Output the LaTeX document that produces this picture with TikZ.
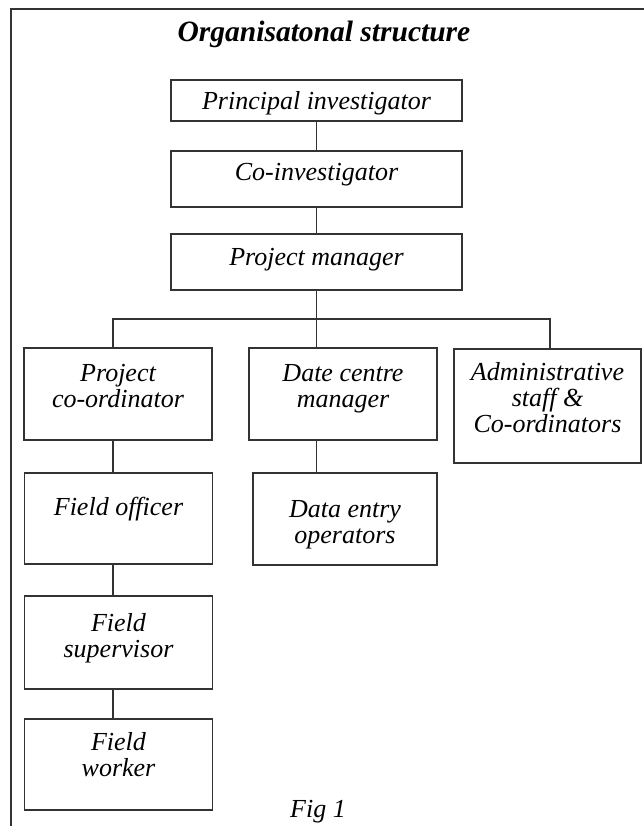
\documentclass[tikz,border=0pt]{standalone}
\usepackage{fontspec}
\setmainfont{Liberation Serif}

\begin{document}
\begin{tikzpicture}[x=1pt,y=-1pt,line width=1.2pt,line cap=rect]
	\tikzstyle{box}=[draw=black!80,rectangle,inner sep=0pt];
	\tikzstyle{top}=[box,minimum width=291pt];
	\tikzstyle{low}=[box,minimum width=188pt];
	\tikzstyle{txt}=[anchor=north,inner sep=0pt,align=center,font=\fontsize{26}{26}\selectfont\itshape];
	\tikzstyle{link}=[draw=black!80];

	\useasboundingbox (0,0) rectangle (643,826);
	\draw[link] (643,9) -- (11,9) -- (11,826);

	\node[font=\fontsize{29.5}{30}\selectfont\bfseries\itshape,anchor=base] (title) at (324,42) {Organisatonal structure};

	\node[top,minimum height=41pt,label={[txt,yshift=-11pt]north:Principal investigator}] (pi)  at (316.5,100.5) {};
	\node[top,minimum height=56pt,label={[txt,yshift=-12pt]north:Co-investigator}]        (ci)  at (316.5,179)   {};
	\node[top,minimum height=56pt,label={[txt,yshift=-14pt]north:Project manager}]        (pm)  at (316.5,262)   {};

	\node[low,minimum height=92pt,label={[txt,yshift=-16pt]north:Project\\co-ordinator}]  (pc)  at (118,394)   {};
	\node[low,minimum height=92pt,label={[txt,yshift=-16pt]north:Date centre\\manager}]   (dcm) at (343,394)   {};
	\node[low,minimum height=114pt,minimum width=187pt,
		label={[txt,yshift=-13pt]north:Administrative\\staff \&\\Co-ordinators}]         (adm) at (547.5,406) {};

	\node[low,minimum height=91pt,label={[txt,yshift=-24pt]north:Field officer}]          (fo)  at (118.5,518.5) {};
	\node[low,minimum height=92pt,minimum width=184pt,
		label={[txt,yshift=-27pt]north:Data entry\\operators}]                           (de)  at (345,519)   {};
	\node[low,minimum height=93pt,label={[txt,yshift=-17pt]north:Field\\supervisor}]      (fs)  at (118.5,642.5) {};
	\node[low,minimum height=91pt,label={[txt,yshift=-13pt]north:Field\\worker}]          (fw)  at (118.5,764.5) {};

	\node[font=\fontsize{26}{28}\selectfont\itshape,anchor=base] (fig) at (318,817) {Fig 1};

	\coordinate (bus) at (316.5,319);
	\draw[link] (pi) -- (ci);
	\draw[link] (ci) -- (pm);
	\draw[link] (pm.south) -- (pm.south |- dcm.north);
	\draw[link] ([xshift=-5pt]pc.north) |- (bus);
	\draw[link] ([xshift=2.5pt]adm.north) |- (bus);
	\draw[link] ([xshift=-5pt]pc.south) -- ([xshift=-5.5pt]fo.north);
	\draw[link] ([xshift=-5.5pt]fo.south) -- ([xshift=-5.5pt]fs.north);
	\draw[link] ([xshift=-5.5pt]fs.south) -- ([xshift=-5.5pt]fw.north);
	\draw[link] (pm.south |- dcm.south) -- (pm.south |- de.north);
\end{tikzpicture}
\end{document}
